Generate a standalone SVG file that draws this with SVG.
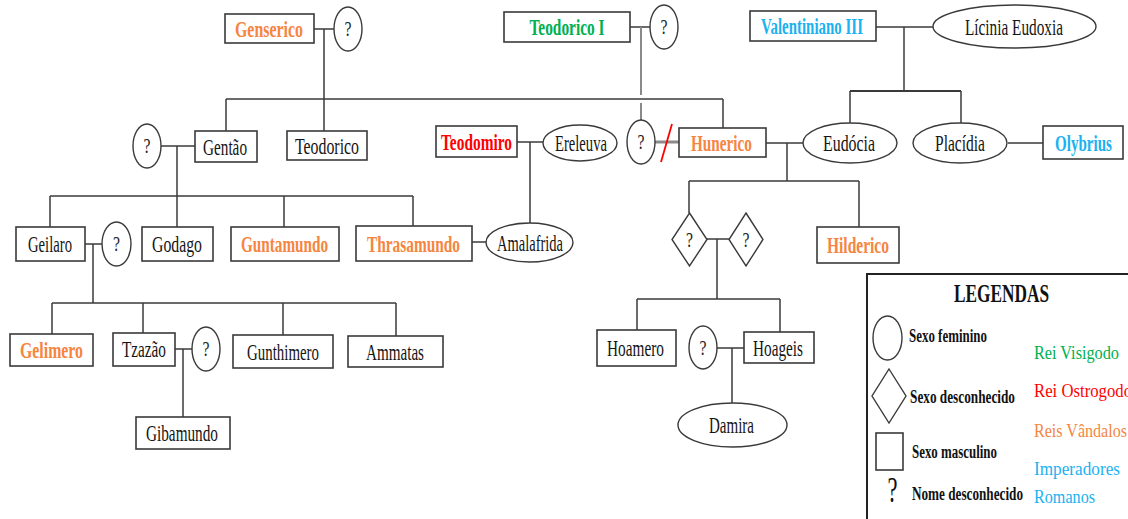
<svg xmlns="http://www.w3.org/2000/svg" width="1128" height="519" viewBox="0 0 1128 519">
<style>
.bg{fill:#fff}
.box{fill:#fff;stroke:#3a3a3a;stroke-width:1.6}
.el{fill:#fff;stroke:#3a3a3a;stroke-width:1.4}
.c line{stroke:#3a3a3a;stroke-width:1.5}
.c .g{stroke:#8a8a8a;stroke-width:2}
.t{font-family:"Liberation Serif","Times New Roman",serif;font-size:23px;text-anchor:middle;fill:#151515}
.q{font-family:"Liberation Serif","Times New Roman",serif;font-size:21px;text-anchor:middle;fill:#222}
.b{font-weight:bold}
.or{fill:#F5853F}
.gr{fill:#00B050}
.rd{fill:#FF0000}
.bl{fill:#1AB2F0}
.lg{font-family:"Liberation Serif","Times New Roman",serif;font-weight:bold;fill:#111}
.lc{font-family:"Liberation Serif","Times New Roman",serif;font-size:19px}
</style>
<rect class="bg" x="0" y="0" width="1128" height="519"/>

<g id="connectors" class="c">
  <line x1="314" y1="29" x2="334" y2="29"/>
  <line x1="324" y1="29" x2="324" y2="131"/>
  <line x1="226" y1="99" x2="723" y2="99"/>
  <line x1="226" y1="99" x2="226" y2="131"/>
  <line x1="723" y1="99" x2="723" y2="128"/>
  <line x1="630" y1="27" x2="650" y2="27"/>
  <line class="g" x1="641" y1="27" x2="641" y2="95"/>
  <line class="g" x1="641" y1="103" x2="641" y2="120"/>
  <line class="g" x1="655" y1="142" x2="679" y2="142" style="stroke-width:3"/>
  <line x1="661" y1="162" x2="672" y2="124" style="stroke:#FF0000;stroke-width:1.8"/>
  <line x1="876" y1="27" x2="933" y2="27"/>
  <line x1="904" y1="27" x2="904" y2="91"/>
  <line x1="850" y1="91" x2="961" y2="91" style="stroke-width:2.2"/>
  <line x1="850" y1="91" x2="850" y2="123"/>
  <line x1="961" y1="91" x2="961" y2="123"/>
  <line x1="1008" y1="143" x2="1043" y2="143"/>
  <line x1="161" y1="146" x2="195" y2="146"/>
  <line x1="177" y1="146" x2="177" y2="227"/>
  <line x1="50" y1="196" x2="413" y2="196"/>
  <line x1="50" y1="196" x2="50" y2="227"/>
  <line x1="284" y1="196" x2="284" y2="227"/>
  <line x1="413" y1="196" x2="413" y2="226"/>
  <line x1="517" y1="142" x2="543" y2="142"/>
  <line x1="530" y1="142" x2="530" y2="223"/>
  <line x1="472" y1="242" x2="486" y2="242"/>
  <line x1="85" y1="244" x2="102" y2="244"/>
  <line x1="93" y1="244" x2="93" y2="303"/>
  <line x1="52" y1="303" x2="396" y2="303"/>
  <line x1="52" y1="303" x2="52" y2="334"/>
  <line x1="143" y1="303" x2="143" y2="333"/>
  <line x1="283" y1="303" x2="283" y2="335"/>
  <line x1="396" y1="303" x2="396" y2="336"/>
  <line x1="175" y1="349" x2="192" y2="349"/>
  <line x1="183" y1="349" x2="183" y2="417"/>
  <line x1="766" y1="143" x2="803" y2="143"/>
  <line x1="787" y1="143" x2="787" y2="181"/>
  <line x1="689" y1="181" x2="859" y2="181"/>
  <line x1="689" y1="181" x2="689" y2="213"/>
  <line x1="859" y1="181" x2="859" y2="227"/>
  <line x1="707" y1="239" x2="729" y2="239"/>
  <line x1="717" y1="239" x2="717" y2="299"/>
  <line x1="637" y1="299" x2="780" y2="299"/>
  <line x1="637" y1="299" x2="637" y2="330"/>
  <line x1="780" y1="299" x2="780" y2="332"/>
  <line x1="717" y1="348" x2="744" y2="348"/>
  <line x1="732" y1="348" x2="732" y2="403"/>
</g>

<g id="genserico"><rect class="box" x="225" y="14" width="89" height="29"/><text class="t b or" x="269" y="36.5" textLength="68" lengthAdjust="spacingAndGlyphs">Genserico</text></g>
<g id="genserico-wife"><ellipse class="el" cx="348" cy="29" rx="14" ry="22"/><text class="q" x="348" y="36" textLength="7" lengthAdjust="spacingAndGlyphs">?</text></g>
<g id="teodorico-i"><rect class="box" x="504" y="12" width="126" height="30"/><text class="t b gr" x="567" y="35" textLength="75" lengthAdjust="spacingAndGlyphs">Teodorico I</text></g>
<g id="teodorico-i-wife"><ellipse class="el" cx="664" cy="27" rx="14" ry="22"/><text class="q" x="664" y="34" textLength="7" lengthAdjust="spacingAndGlyphs">?</text></g>
<g id="valentiniano"><rect class="box" x="750" y="11" width="126" height="30"/><text class="t b bl" x="812" y="34" textLength="102" lengthAdjust="spacingAndGlyphs">Valentiniano III</text></g>
<g id="licinia"><ellipse class="el" cx="1014.5" cy="26.5" rx="81.5" ry="21.5"/><text class="t" x="1014" y="34.5" textLength="98" lengthAdjust="spacingAndGlyphs">Lícinia Eudoxia</text></g>

<g id="gentao-wife"><ellipse class="el" cx="147" cy="146" rx="14" ry="22"/><text class="q" x="147" y="153" textLength="7" lengthAdjust="spacingAndGlyphs">?</text></g>
<g id="gentao"><rect class="box" x="195" y="131" width="62" height="31"/><text class="t" x="225" y="154.5" textLength="44" lengthAdjust="spacingAndGlyphs">Gentão</text></g>
<g id="teodorico"><rect class="box" x="287" y="131" width="80" height="29"/><text class="t" x="327" y="153.5" textLength="64" lengthAdjust="spacingAndGlyphs">Teodorico</text></g>
<g id="teodomiro"><rect class="box" x="436" y="126" width="81" height="31"/><text class="t b rd" x="476.5" y="149.5" textLength="71" lengthAdjust="spacingAndGlyphs">Teodomiro</text></g>
<g id="ereleuva"><ellipse class="el" cx="580" cy="143" rx="37" ry="18"/><text class="t" x="581" y="150.5" textLength="52" lengthAdjust="spacingAndGlyphs">Ereleuva</text></g>
<g id="hunerico-wife"><ellipse class="el" cx="641" cy="142" rx="14" ry="22"/><text class="q" x="641" y="149" textLength="7" lengthAdjust="spacingAndGlyphs">?</text></g>
<g id="hunerico"><rect class="box" x="679" y="128" width="87" height="29"/><text class="t b or" x="721.5" y="150.5" textLength="61" lengthAdjust="spacingAndGlyphs">Hunerico</text></g>
<g id="eudocia"><ellipse class="el" cx="850" cy="143" rx="47" ry="20"/><text class="t" x="849" y="151" textLength="52" lengthAdjust="spacingAndGlyphs">Eudócia</text></g>
<g id="placidia"><ellipse class="el" cx="960" cy="143" rx="47" ry="20"/><text class="t" x="960" y="151" textLength="50" lengthAdjust="spacingAndGlyphs">Placídia</text></g>
<g id="olybrius"><rect class="box" x="1043" y="126" width="80" height="33"/><text class="t b bl" x="1083.5" y="150.5" textLength="57" lengthAdjust="spacingAndGlyphs">Olybrius</text></g>

<g id="geilaro"><rect class="box" x="16" y="227" width="69" height="34"/><text class="t" x="50" y="252" textLength="44" lengthAdjust="spacingAndGlyphs">Geilaro</text></g>
<g id="geilaro-wife"><ellipse class="el" cx="116.5" cy="244" rx="14.5" ry="22"/><text class="q" x="116.5" y="251" textLength="7" lengthAdjust="spacingAndGlyphs">?</text></g>
<g id="godago"><rect class="box" x="142" y="227" width="71" height="34"/><text class="t" x="177" y="252" textLength="50" lengthAdjust="spacingAndGlyphs">Godago</text></g>
<g id="guntamundo"><rect class="box" x="231" y="227" width="108" height="34"/><text class="t b or" x="284.5" y="252" textLength="87" lengthAdjust="spacingAndGlyphs">Guntamundo</text></g>
<g id="thrasamundo"><rect class="box" x="356" y="226" width="116" height="35"/><text class="t b or" x="413.5" y="251.5" textLength="93" lengthAdjust="spacingAndGlyphs">Thrasamundo</text></g>
<g id="amalafrida"><ellipse class="el" cx="529.5" cy="242.5" rx="43.5" ry="19.5"/><text class="t" x="530" y="250.5" textLength="66" lengthAdjust="spacingAndGlyphs">Amalafrida</text></g>
<g id="diamond-1"><polygon class="el" points="689.5,213 707,239.5 689.5,266 672,239.5"/><text class="q" x="689.5" y="247" textLength="7" lengthAdjust="spacingAndGlyphs">?</text></g>
<g id="diamond-2"><polygon class="el" points="746,213 763,239.5 746,266 729,239.5"/><text class="q" x="746" y="247" textLength="7" lengthAdjust="spacingAndGlyphs">?</text></g>
<g id="hilderico"><rect class="box" x="817" y="227" width="82" height="36"/><text class="t b or" x="858" y="253" textLength="62" lengthAdjust="spacingAndGlyphs">Hilderico</text></g>

<g id="gelimero"><rect class="box" x="10" y="334" width="83" height="32"/><text class="t b or" x="51.5" y="358" textLength="63" lengthAdjust="spacingAndGlyphs">Gelimero</text></g>
<g id="tzazao"><rect class="box" x="113" y="333" width="62" height="33"/><text class="t" x="144" y="357" textLength="44" lengthAdjust="spacingAndGlyphs">Tzazão</text></g>
<g id="tzazao-wife"><ellipse class="el" cx="206" cy="349" rx="14" ry="22"/><text class="q" x="206" y="356" textLength="7" lengthAdjust="spacingAndGlyphs">?</text></g>
<g id="gunthimero"><rect class="box" x="233" y="335" width="100" height="33"/><text class="t" x="283" y="359.5" textLength="72" lengthAdjust="spacingAndGlyphs">Gunthimero</text></g>
<g id="ammatas"><rect class="box" x="348" y="336" width="95" height="31"/><text class="t" x="395" y="359.5" textLength="58" lengthAdjust="spacingAndGlyphs">Ammatas</text></g>
<g id="gibamundo"><rect class="box" x="136" y="417" width="94" height="32"/><text class="t" x="182" y="441" textLength="72" lengthAdjust="spacingAndGlyphs">Gibamundo</text></g>

<g id="hoamero"><rect class="box" x="597" y="330" width="79" height="36"/><text class="t" x="635.5" y="356" textLength="57" lengthAdjust="spacingAndGlyphs">Hoamero</text></g>
<g id="hoageis-wife"><ellipse class="el" cx="703" cy="347.5" rx="14" ry="21.5"/><text class="q" x="703" y="354.5" textLength="7" lengthAdjust="spacingAndGlyphs">?</text></g>
<g id="hoageis"><rect class="box" x="744" y="332" width="70" height="31"/><text class="t" x="778" y="355.5" textLength="50" lengthAdjust="spacingAndGlyphs">Hoageis</text></g>
<g id="damira"><ellipse class="el" cx="732.5" cy="425" rx="54.5" ry="22"/><text class="t" x="731.5" y="433" textLength="45" lengthAdjust="spacingAndGlyphs">Damira</text></g>

<g id="legend">
  <rect x="867" y="274" width="300" height="300" fill="#fff" stroke="#222" stroke-width="2"/>
  <text class="lg" x="1001.5" y="302" font-size="25" text-anchor="middle" textLength="95" lengthAdjust="spacingAndGlyphs">LEGENDAS</text>
  <ellipse class="el" cx="887.5" cy="338" rx="14.5" ry="22"/>
  <text class="lg" x="909" y="342" font-size="18" textLength="78" lengthAdjust="spacingAndGlyphs">Sexo feminino</text>
  <polygon class="el" points="889,369 906,396 889,423 872,396"/>
  <text class="lg" x="910" y="403" font-size="18" textLength="105" lengthAdjust="spacingAndGlyphs">Sexo desconhecido</text>
  <rect class="box" x="876" y="433" width="27" height="37"/>
  <text class="lg" x="912" y="458" font-size="18" textLength="85" lengthAdjust="spacingAndGlyphs">Sexo masculino</text>
  <text x="892.5" y="502" font-family="Liberation Serif, serif" font-size="36" text-anchor="middle" fill="#111" textLength="10" lengthAdjust="spacingAndGlyphs">?</text>
  <text class="lg" x="912" y="500" font-size="18" textLength="111" lengthAdjust="spacingAndGlyphs">Nome desconhecido</text>
  <text class="lc gr" x="1034" y="359" textLength="85" lengthAdjust="spacingAndGlyphs">Rei Visigodo</text>
  <text class="lc rd" x="1034" y="397" textLength="98" lengthAdjust="spacingAndGlyphs">Rei Ostrogodo</text>
  <text class="lc or" x="1034" y="437" textLength="93" lengthAdjust="spacingAndGlyphs">Reis Vândalos</text>
  <text class="lc bl" x="1034" y="475" textLength="86" lengthAdjust="spacingAndGlyphs">Imperadores</text>
  <text class="lc bl" x="1034" y="503" textLength="61" lengthAdjust="spacingAndGlyphs">Romanos</text>
</g>
</svg>
